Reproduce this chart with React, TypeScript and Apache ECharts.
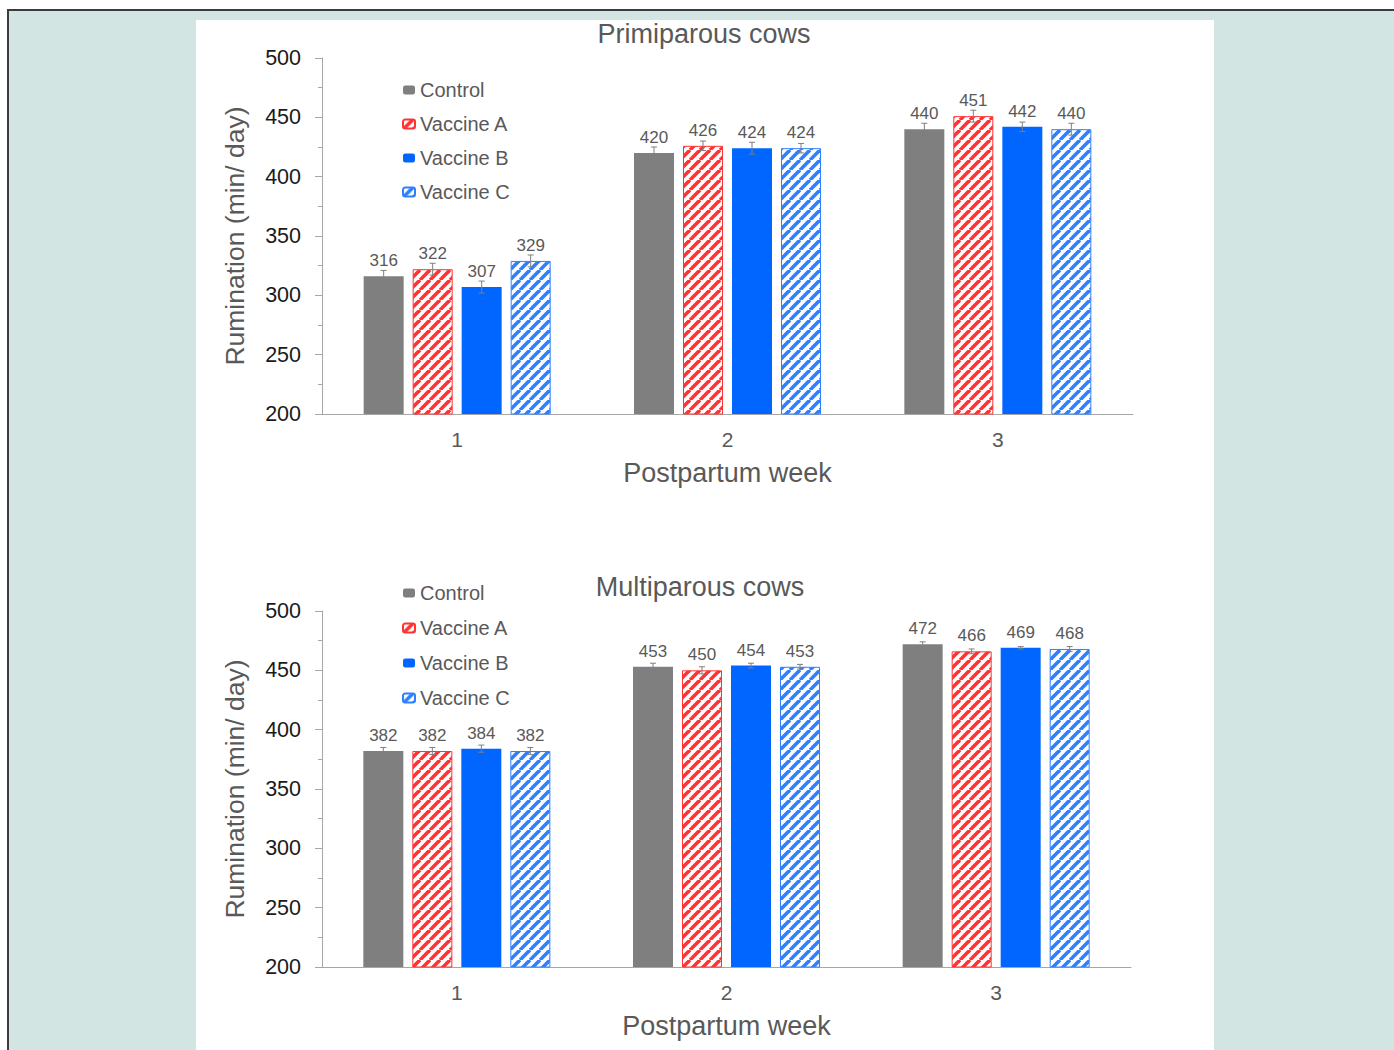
import React, { useEffect, useRef } from 'react';
import * as echarts from 'echarts';

const weeks = ['1', '2', '3'];
const seriesNames = ['Control', 'Vaccine A', 'Vaccine B', 'Vaccine C'];
const yTicks = { min: 200, max: 500, interval: 50 };

// Primiparous cows
const primiControl = [316, 420, 440];
const primiVaccineA = [322, 426, 451];
const primiVaccineB = [307, 424, 442];
const primiVaccineC = [329, 424, 440];
const primiErrControl = [5, 5, 5];
const primiErrVaccineA = [5, 4, 5];
const primiErrVaccineB = [5, 5, 4];
const primiErrVaccineC = [5, 4, 5];

// Multiparous cows
const multiControl = [382, 453, 472];
const multiVaccineA = [382, 450, 466];
const multiVaccineB = [384, 454, 469];
const multiVaccineC = [382, 453, 468];
const multiErrControl = [3, 3, 2];
const multiErrVaccineA = [3, 3, 2];
const multiErrVaccineB = [3, 2, 1];
const multiErrVaccineC = [3, 2, 2];

const FONT = '"Liberation Sans", Arial, sans-serif';
const GRAY_TEXT = '#595959';
const AXIS_GRAY = '#a6a6a6';
const BAR_W = 40;
const BAR_GAP_PX = 9;

function hatch(color: string) {
  const size = 10;
  const cv = document.createElement('canvas');
  cv.width = size;
  cv.height = size;
  const ctx = cv.getContext('2d')!;
  ctx.fillStyle = '#ffffff';
  ctx.fillRect(0, 0, size, size);
  ctx.strokeStyle = color;
  ctx.lineWidth = 3.6;
  for (const o of [-size, 0, size]) {
    ctx.beginPath();
    ctx.moveTo(o, size);
    ctx.lineTo(o + size, 0);
    ctx.stroke();
  }
  return { image: cv, repeat: 'repeat', imageWidth: size, imageHeight: size };
}

function makeStyles() {
  return [
    { color: '#7f7f7f' },
    { color: hatch('#ff3333'), borderColor: '#ff3333', borderWidth: 1 },
    { color: '#0066ff' },
    { color: hatch('#2f80ff'), borderColor: '#2f80ff', borderWidth: 1 },
  ];
}

function buildChart(gridIndex: number, values: number[][], errs: number[][], styles: any[]) {
  const series: any[] = [];
  values.forEach((vals, s) => {
    series.push({
      type: 'bar',
      name: seriesNames[s],
      xAxisIndex: gridIndex,
      yAxisIndex: gridIndex,
      data: vals,
      barWidth: BAR_W,
      barGap: `${(BAR_GAP_PX / BAR_W) * 100}%`,
      itemStyle: styles[s],
      label: {
        show: true,
        position: 'top',
        distance: 7,
        fontSize: 17,
        color: GRAY_TEXT,
        fontFamily: FONT,
      },
      z: 2,
    });
  });
  const errData: number[][] = [];
  values.forEach((vals, s) => {
    vals.forEach((v, c) => errData.push([c, v, errs[s][c], s]));
  });
  series.push({
    type: 'custom',
    xAxisIndex: gridIndex,
    yAxisIndex: gridIndex,
    data: errData,
    encode: { x: 0, y: 1 },
    z: 5,
    silent: true,
    renderItem: (params: any, api: any) => {
      const c = api.value(0);
      const v = api.value(1);
      const e = api.value(2);
      const s = api.value(3);
      const base = api.coord([c, v]);
      const x = base[0] + (s - 1.5) * (BAR_W + BAR_GAP_PX);
      const top = api.coord([c, v + e])[1];
      const bot = api.coord([c, v - e])[1];
      const st = { stroke: '#7f7f7f', lineWidth: 1 };
      return {
        type: 'group',
        children: [
          { type: 'line', shape: { x1: x, y1: top, x2: x, y2: bot }, style: st },
          { type: 'line', shape: { x1: x - 3, y1: top, x2: x + 3, y2: top }, style: st },
          { type: 'line', shape: { x1: x - 3, y1: bot, x2: x + 3, y2: bot }, style: st },
        ],
      };
    },
  });
  return series;
}

function xAxisDef(gridIndex: number) {
  return {
    type: 'category',
    gridIndex,
    data: weeks,
    name: 'Postpartum week',
    nameLocation: 'middle',
    nameGap: 45,
    nameTextStyle: { fontSize: 27, color: GRAY_TEXT, fontFamily: FONT },
    axisLine: { show: true, lineStyle: { color: AXIS_GRAY, width: 1 } },
    axisTick: { show: false },
    axisLabel: { fontSize: 21, color: GRAY_TEXT, margin: 15, fontFamily: FONT },
    splitLine: { show: false },
  };
}

function yAxisDef(gridIndex: number) {
  return {
    type: 'value',
    gridIndex,
    min: yTicks.min,
    max: yTicks.max,
    interval: yTicks.interval,
    name: 'Rumination (min/ day)',
    nameLocation: 'middle',
    nameGap: 74,
    nameTextStyle: { fontSize: 26.5, color: GRAY_TEXT, fontFamily: FONT },
    axisLine: { show: true, lineStyle: { color: AXIS_GRAY, width: 1 } },
    axisTick: { show: true, inside: false, length: 7, lineStyle: { color: AXIS_GRAY } },
    minorTick: { show: true, splitNumber: 2, length: 4, lineStyle: { color: AXIS_GRAY } },
    axisLabel: { fontSize: 21.5, color: '#1a1a1a', margin: 21, fontFamily: FONT },
    splitLine: { show: false },
    minorSplitLine: { show: false },
  };
}

function legendDef(top: number, gap: number) {
  return {
    orient: 'vertical',
    left: 397,
    top,
    itemGap: gap,
    itemWidth: 12,
    itemHeight: 9,
    selectedMode: false,
    data: seriesNames,
    textStyle: { fontSize: 20, color: GRAY_TEXT, fontFamily: FONT },
  };
}

export default function App() {
  const ref = useRef<HTMLDivElement>(null);
  useEffect(() => {
    document.body.style.margin = '0';
    if (!ref.current) return;
    const chart = echarts.init(ref.current, null, { renderer: 'svg' });
    const styles = makeStyles();
    const series = [
      ...buildChart(
        0,
        [primiControl, primiVaccineA, primiVaccineB, primiVaccineC],
        [primiErrControl, primiErrVaccineA, primiErrVaccineB, primiErrVaccineC],
        styles
      ),
      ...buildChart(
        1,
        [multiControl, multiVaccineA, multiVaccineB, multiVaccineC],
        [multiErrControl, multiErrVaccineA, multiErrVaccineB, multiErrVaccineC],
        styles
      ),
    ];
    chart.setOption({
      animation: false,
      backgroundColor: '#ffffff',
      textStyle: { fontFamily: FONT },
      graphic: [
        {
          type: 'rect',
          z: -20,
          silent: true,
          shape: { x: 8, y: 10, width: 1400, height: 1100 },
          style: { fill: '#d2e5e3', stroke: '#3c3c3c', lineWidth: 2 },
        },
        {
          type: 'rect',
          z: -19,
          silent: true,
          shape: { x: 196, y: 20, width: 1018, height: 1040 },
          style: { fill: '#ffffff' },
        },
        {
          type: 'text',
          x: 704,
          y: 34,
          style: {
            text: 'Primiparous cows',
            fontSize: 27,
            fontFamily: FONT,
            fill: GRAY_TEXT,
            align: 'center',
            verticalAlign: 'middle',
          },
        },
        {
          type: 'text',
          x: 700,
          y: 587,
          style: {
            text: 'Multiparous cows',
            fontSize: 27,
            fontFamily: FONT,
            fill: GRAY_TEXT,
            align: 'center',
            verticalAlign: 'middle',
          },
        },
      ],
      legend: [legendDef(75, 14), legendDef(578, 15)],
      grid: [
        { left: 322, top: 58, width: 811, height: 356, containLabel: false },
        { left: 322, top: 611, width: 809, height: 356, containLabel: false },
      ],
      xAxis: [xAxisDef(0), xAxisDef(1)],
      yAxis: [yAxisDef(0), yAxisDef(1)],
      series,
    });
    return () => chart.dispose();
  }, []);
  return <div ref={ref} style={{ width: 1394, height: 1050 }} />;
}
